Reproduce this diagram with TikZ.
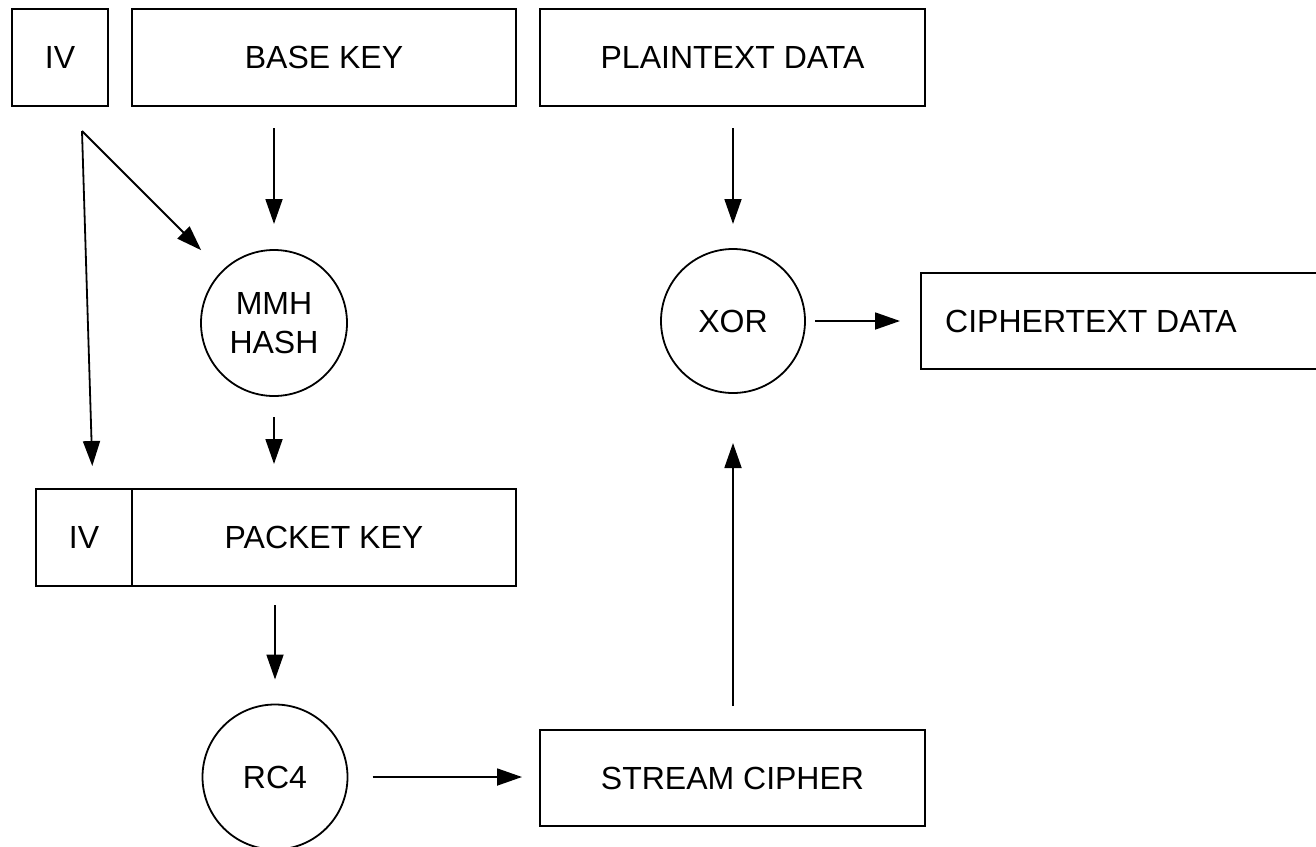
\documentclass[tikz,border=0pt]{standalone}
\usepackage{fontspec}
\setmainfont{Liberation Sans}
\usetikzlibrary{arrows.meta}
\begin{document}
\begin{tikzpicture}[x=1pt,y=-1pt,
  every node/.style={font=\fontsize{32}{39}\selectfont, inner sep=0pt, outer sep=0pt},
  box/.style={draw, line width=1.8pt, minimum height=97pt},
  ring/.style={draw, circle, line width=1.8pt, align=center},
  arr/.style={line width=1.8pt, -{Triangle[length=25pt,width=17pt]}}]
\useasboundingbox (0,0) rectangle (1316,846);
\clip (0,0) rectangle (1316,846);

% key material
\node[box, minimum width=96pt] (iv) at (60,57.5) {IV};
\node[box, minimum width=384pt] (basekey) at (324,57.5) {BASE KEY};
\node[box, minimum width=385pt] (plain) at (732.5,57.5) {PLAINTEXT DATA};

% hashing and packet key
\node[ring, minimum size=146pt] (mmh) at (274,323) {MMH\\HASH};
\node[box, minimum width=96pt] (piv) at (84,537.5) {IV};
\node[box, minimum width=384pt] (pkey) at (324,537.5) {PACKET KEY};

% keystream
\node[ring, minimum size=145pt] (rc4) at (275,777) {RC4};
\node[box, minimum width=385pt, minimum height=96pt] (stream) at (732.5,778) {STREAM CIPHER};

% encryption
\node[ring, minimum size=144pt] (xor) at (733,321) {XOR};
\node[box, minimum width=420pt, minimum height=96pt, anchor=west] (cipher) at (921,321) {};
\node (ciphertext) at (1091,321) {CIPHERTEXT DATA};

% IV fan-out
\coordinate (ivsplit) at ([shift={(22,25)}]iv.south);
\draw[arr, shorten >=30pt] (ivsplit) -- (mmh);
\draw[arr, shorten >=23pt] (ivsplit) -- ([xshift=9pt]piv.north);

% data flow
\draw[arr, shorten <=22pt, shorten >=26pt] (mmh |- basekey.south) -- (mmh.north);
\draw[arr, shorten <=22pt, shorten >=25pt] (xor |- plain.south) -- (xor.north);
\draw[arr, shorten <=21pt, shorten >=25pt] (mmh.south) -- (mmh |- pkey.north);
\draw[arr, shorten <=19pt, shorten >=25pt] (rc4 |- pkey.south) -- (rc4.north);
\draw[arr, shorten <=25pt, shorten >=18pt] (rc4.east) -- (stream.west |- rc4.east);
\draw[arr, shorten <=24pt, shorten >=50pt] (stream.north -| xor) -- (xor.south);
\draw[arr, shorten <=10pt, shorten >=21pt] (xor.east) -- (cipher.west);
\end{tikzpicture}
\end{document}
